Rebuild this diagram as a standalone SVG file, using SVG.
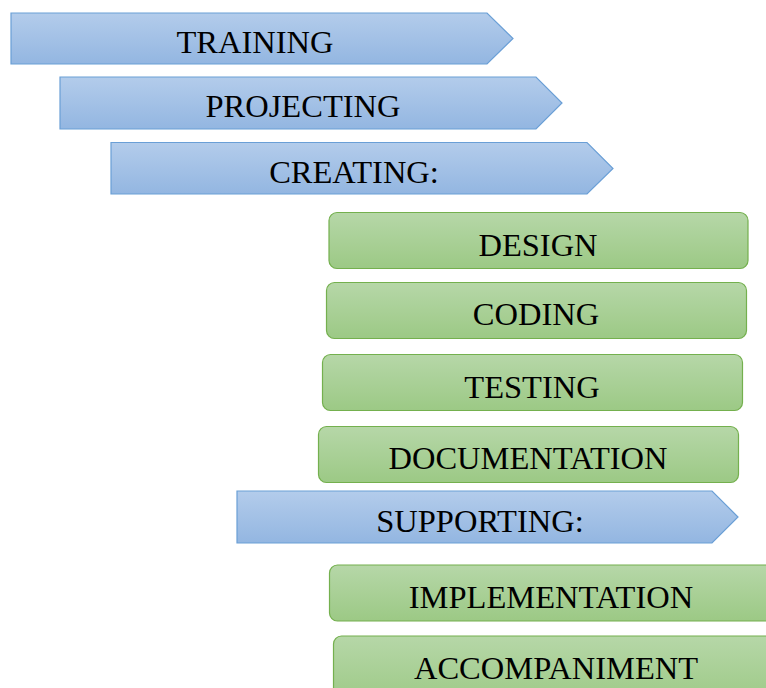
<svg xmlns="http://www.w3.org/2000/svg" width="766" height="688" viewBox="0 0 766 688">
<defs>
<linearGradient id="gb" x1="0" y1="0" x2="0" y2="1"><stop offset="0" stop-color="#b3cceb"/><stop offset="1" stop-color="#93b6e1"/></linearGradient>
<linearGradient id="gg" x1="0" y1="0" x2="0" y2="1"><stop offset="0" stop-color="#b6d7a8"/><stop offset="1" stop-color="#9cc985"/></linearGradient>
</defs>
<style>
.arrow{fill:url(#gb);stroke:#6a9fd6;stroke-width:1.2}
.box{fill:url(#gg);stroke:#74b04e;stroke-width:1.2}
text{font-family:"Liberation Serif","Times New Roman",serif;font-size:32.5px;fill:#000;text-anchor:middle}
</style>
<rect width="766" height="688" fill="#fff"/>
<g id="training"><path class="arrow" d="M11,13 H487 L513,38.5 L487,64 H11 Z"/><text x="255" y="53">TRAINING</text></g>
<g id="projecting"><path class="arrow" d="M60,77 H536 L562,103 L536,129 H60 Z"/><text x="303" y="117">PROJECTING</text></g>
<g id="creating"><path class="arrow" d="M111,142.5 H587 L613,168.5 L587,194 H111 Z"/><text x="354" y="183">CREATING:</text></g>
<g id="design"><rect class="box" x="329" y="212.5" width="419" height="56" rx="8"/><text x="538" y="256">DESIGN</text></g>
<g id="coding"><rect class="box" x="326.5" y="282.5" width="420" height="56" rx="8"/><text x="536" y="325">CODING</text></g>
<g id="testing"><rect class="box" x="322.5" y="354.5" width="420" height="56" rx="8"/><text x="532" y="398">TESTING</text></g>
<g id="documentation"><rect class="box" x="318.5" y="426.5" width="420" height="56" rx="8"/><text x="528" y="469">DOCUMENTATION</text></g>
<g id="supporting"><path class="arrow" d="M237,491 H712 L738,517 L712,543 H237 Z"/><text x="480" y="532">SUPPORTING:</text></g>
<g id="implementation"><rect class="box" x="329.5" y="565" width="450" height="56" rx="8"/><text x="551" y="608">IMPLEMENTATION</text></g>
<g id="accompaniment"><rect class="box" x="333.5" y="636" width="450" height="70" rx="8"/><text x="556" y="679">ACCOMPANIMENT</text></g>
<g id="connectors"/>
</svg>
